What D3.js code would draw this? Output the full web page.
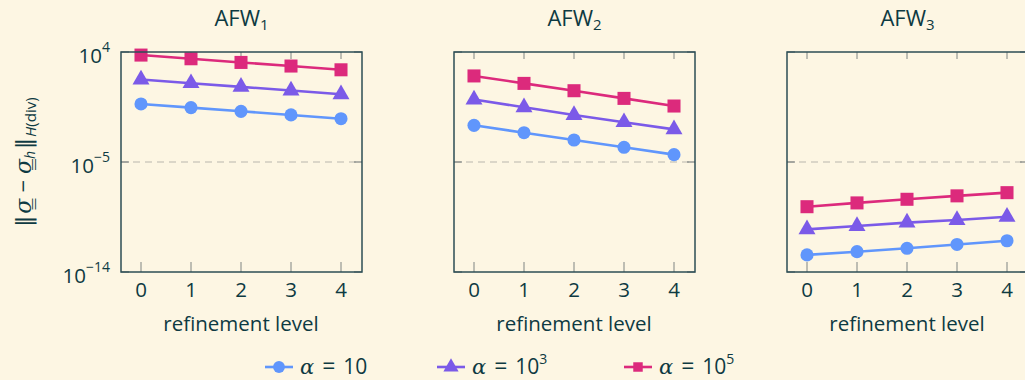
<!DOCTYPE html>
<html>
<head>
<meta charset="utf-8">
<script src="https://cdn.jsdelivr.net/npm/d3@7"></script>
<style>
  body { margin: 0; background: #fdf6e3; }
  text { font-family: "Open Sans", "DejaVu Sans", sans-serif; fill: #0e3a42; }
</style>
</head>
<body>
<div id="chart"></div>
<script>
// refinement levels and panels
const levels = [0, 1, 2, 3, 4]
const panels = ["AFW1", "AFW2", "AFW3"]
const yTicks = [1e4, 1e-5, 1e-14]
const yTickExp = ["4", "\u22125", "\u221214"]

// error values (one array per alpha, per panel)
const afw1_a10 = [5.6e-1, 2.8e-1, 1.4e-1, 7.1e-2, 3.5e-2]
const afw1_a1e3 = [5.6e1, 2.8e1, 1.4e1, 7.1e0, 3.5e0]
const afw1_a1e5 = [5.6e3, 2.8e3, 1.4e3, 7.1e2, 3.5e2]
const afw2_a10 = [1.0e-2, 2.5e-3, 6.3e-4, 1.6e-4, 4.0e-5]
const afw2_a1e3 = [1.3e0, 3.0e-1, 7.0e-2, 1.8e-2, 4.7e-3]
const afw2_a1e5 = [1.1e2, 2.7e1, 6.8e0, 1.6e0, 3.8e-1]
const afw3_a10 = [2.5e-13, 4.6e-13, 8.7e-13, 1.8e-12, 3.6e-12]
const afw3_a1e3 = [3.1e-11, 5.8e-11, 1.1e-10, 1.8e-10, 3.3e-10]
const afw3_a1e5 = [2.2e-9, 4.5e-9, 8.9e-9, 1.7e-8, 3.1e-8]

const seriesNames = ["a10", "a1e3", "a1e5"]
const seriesColors = ["#6096fc", "#7b5ae8", "#dc2a7c"]
const seriesShapes = [d3.symbolCircle, d3.symbolTriangle, d3.symbolSquare]
const legendExp = ["", "3", "5"]

const data = [
  [afw1_a10, afw1_a1e3, afw1_a1e5],
  [afw2_a10, afw2_a1e3, afw2_a1e5],
  [afw3_a10, afw3_a1e3, afw3_a1e5]
]

const W = 1025, H = 380
const panelLeft = [121, 454, 787]
const panelW = 241, panelTop = 52, panelH = 220

const svg = d3.select("#chart").append("svg")
  .attr("width", W).attr("height", H)
  .style("background", "#fdf6e3")

const x = d3.scaleLinear().domain([-0.4, 4.42]).range([0, panelW])
const y = d3.scaleLog().domain([1e-14, 1e4]).range([panelH, 0])

const line = d3.line().x((d, i) => x(levels[i])).y(d => y(d))

panels.forEach((name, p) => {
  const g = svg.append("g").attr("transform", "translate(" + panelLeft[p] + "," + panelTop + ")")

  // title
  const t = g.append("text")
    .attr("x", panelW / 2).attr("y", -26)
    .attr("text-anchor", "middle").style("font-size", "22px")
  t.append("tspan").text(name.slice(0, 3))
  t.append("tspan").attr("dy", 4).style("font-size", "15px").text(name.slice(3))

  // dashed grid at 1e-5
  g.append("line")
    .attr("x1", 0).attr("x2", panelW)
    .attr("y1", y(1e-5)).attr("y2", y(1e-5))
    .attr("stroke", "#cfcbc0").attr("stroke-width", 1.3)
    .attr("stroke-dasharray", "7,5")

  // x ticks top and bottom, inward
  g.selectAll(".xt").data(levels).enter().append("g").each(function(d) {
    const s = d3.select(this)
    s.append("line").attr("x1", x(d)).attr("x2", x(d)).attr("y1", 0).attr("y2", 7)
      .attr("stroke", "#7f8482").attr("stroke-width", 1)
    s.append("line").attr("x1", x(d)).attr("x2", x(d)).attr("y1", panelH).attr("y2", panelH - 10)
      .attr("stroke", "#7f8482").attr("stroke-width", 1)
  })
  // y ticks left and right, inward
  yTicks.forEach(v => {
    g.append("line").attr("x1", 0).attr("x2", 8).attr("y1", y(v)).attr("y2", y(v))
      .attr("stroke", "#7f8482").attr("stroke-width", 1.2)
    g.append("line").attr("x1", panelW).attr("x2", panelW - 8).attr("y1", y(v)).attr("y2", y(v))
      .attr("stroke", "#7f8482").attr("stroke-width", 1.2)
  })

  // x tick labels
  g.selectAll(".xl").data(levels).enter().append("text")
    .attr("x", d => x(d)).attr("y", panelH + 25)
    .attr("text-anchor", "middle").style("font-size", "20.5px")
    .text(d => d)

  g.append("text")
    .attr("x", x(2)).attr("y", panelH + 59)
    .attr("text-anchor", "middle").style("font-size", "20.5px")
    .text("refinement level")

  // series
  data[p].forEach((vals, s) => {
    g.append("path").datum(vals)
      .attr("d", line)
      .attr("fill", "none").attr("stroke", seriesColors[s]).attr("stroke-width", 2.6)
    g.selectAll(".m" + s).data(vals).enter().append("path")
      .attr("transform", (d, i) => "translate(" + x(levels[i]) + "," + y(d) + ")")
      .attr("d", d3.symbol().type(seriesShapes[s]).size([135, 125, 170][s]))
      .attr("fill", seriesColors[s])
  })

  // frame
  g.append("rect").attr("width", panelW).attr("height", panelH)
    .attr("fill", "none").attr("stroke", "#2c4e55").attr("stroke-width", 1.5)

  // y tick labels on first panel
  if (p === 0) {
    yTicks.forEach((v, i) => {
      const tx = g.append("text")
        .attr("x", -11).attr("y", y(v) + 11)
        .attr("text-anchor", "end").style("font-size", "20.5px")
      tx.append("tspan").text("10")
      tx.append("tspan").attr("dy", -11).style("font-size", "14px").text(yTickExp[i])
    })
  }
})

// y axis label
const yl = svg.append("text")
  .attr("transform", "translate(31," + (panelTop + panelH / 2) + ") rotate(-90)")
  .attr("text-anchor", "middle").style("font-size", "22px")
yl.append("tspan").text("\u2016")
yl.append("tspan").attr("dx", 2).style("font-family", "DejaVu Serif").style("font-style", "italic").text("\u03c3\u0333")
yl.append("tspan").attr("dx", 6).text("\u2212")
yl.append("tspan").attr("dx", 6).style("font-family", "DejaVu Serif").style("font-style", "italic").text("\u03c3\u0333")
yl.append("tspan").attr("dy", 4).style("font-size", "14px").style("font-style", "italic").text("h")
yl.append("tspan").attr("dx", 2).attr("dy", -4).text("\u2016")
yl.append("tspan").attr("dx", 1).attr("dy", 5).style("font-size", "15px").style("font-style", "italic").text("H")
yl.append("tspan").style("font-size", "15px").text("(div)")

// legend
const legX = [265, 437, 624]
seriesNames.forEach((n, s) => {
  const lg = svg.append("g").attr("transform", "translate(" + legX[s] + ",367)")
  lg.append("line").attr("x1", 0).attr("x2", 28).attr("stroke", seriesColors[s]).attr("stroke-width", 2.6)
  lg.append("path").attr("transform", "translate(14,0)")
    .attr("d", d3.symbol().type(seriesShapes[s]).size([110, 100, 90][s]))
    .attr("fill", seriesColors[s])
  const tx = lg.append("text").attr("x", 35).attr("y", 7).style("font-size", "21px")
  tx.append("tspan").style("font-family", "DejaVu Serif").style("font-style", "italic").text("\u03b1")
  tx.append("tspan").attr("dx", 8).style("font-size", "23px").text("=")
  tx.append("tspan").attr("dx", 8).text("10")
  if (legendExp[s]) tx.append("tspan").attr("dy", -10).style("font-size", "14px").text(legendExp[s])
})
</script>
</body>
</html>
